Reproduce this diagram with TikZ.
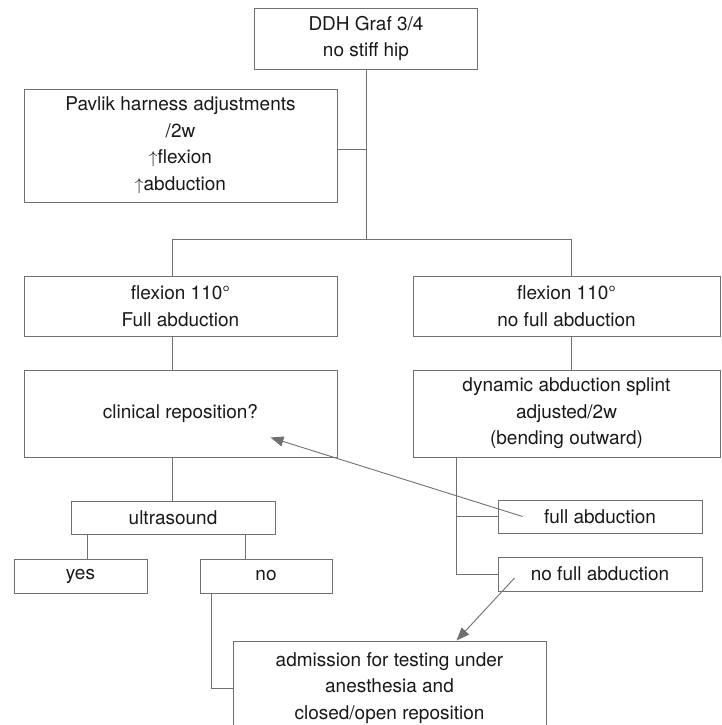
\documentclass[tikz,border=0pt]{standalone}
\usepackage{fontspec}
\setmainfont{TeX Gyre Heros}
\usetikzlibrary{positioning,arrows.meta}
\definecolor{ddhline}{RGB}{112,112,112}
\definecolor{ddhtext}{RGB}{25,25,25}

\tikzset{
  ddhbox/.style={draw=ddhline, line width=0.9pt, text=ddhtext, align=center,
    inner sep=0pt, font=\fontsize{19}{26.5}\selectfont},
  ddhlink/.style={draw=ddhline, line width=0.9pt},
  ddharrow/.style={ddhlink, -{Triangle[length=13pt,width=10pt]}}
}

\begin{document}
\begin{tikzpicture}[x=1pt, y=-1pt]
    \clip (0,0) rectangle (721,725);

    % Boxes
    \node[ddhbox, minimum width=223pt, minimum height=61pt] (graf) at (366,38.5) {DDH Graf 3/4\\no stiff hip};
    \node[ddhbox, minimum width=313pt, minimum height=113pt] (pavlik) at (180.5,145.5) {Pavlik harness adjustments\\/2w\\$\uparrow$flexion\\$\uparrow$abduction};
    \node[ddhbox, minimum width=313pt, minimum height=60pt] (flexL) at (180.5,306) {flexion 110°\\Full abduction};
    \node[ddhbox, minimum width=307pt, minimum height=60pt] (flexR) at (566.5,306) {flexion 110°\\no full abduction};
    \node[ddhbox, minimum width=313pt, minimum height=87pt] (clin) at (180.5,413.5) {clinical reposition?};
    \node[ddhbox, minimum width=307pt, minimum height=87pt] (dyn) at (566.5,413.5) {dynamic abduction splint\\adjusted/2w\\(bending outward)};
    \node[ddhbox, minimum width=204pt, minimum height=33pt] (us) at (173,517.5) {ultrasound};
    \node[ddhbox, minimum width=133pt, minimum height=34pt] (yes) at (80.5,576) {yes};
    \node[ddhbox, minimum width=132pt, minimum height=34pt] (no) at (266,576) {no};
    \node[ddhbox, minimum width=204pt, minimum height=33pt] (full) at (600,516.5) {full abduction};
    \node[ddhbox, minimum width=204pt, minimum height=34pt] (nofull) at (600,574) {no full abduction};
    \node[ddhbox, minimum width=313pt, minimum height=94pt] (adm) at (389.5,688) {admission for testing under\\anesthesia and\\closed/open reposition};

    % Axes of the connectors
    \coordinate (split) at (366,239);
    \coordinate (splitL) at (172,239);
    \coordinate (splitR) at (571,239);
    \coordinate (usyes) at (87,0);
    \coordinate (usno) at (245,0);
    \coordinate (noleg) at (211,0);
    \coordinate (dynleg) at (456,0);

    % Connectors
    \draw[ddhlink] (graf.south) -- (split);
    \draw[ddhlink] ([yshift=-4pt]pavlik.east) -- ([yshift=-4pt]pavlik.east -| split);
    \draw[ddhlink] (flexL.north -| splitL) -- (splitL) -- (splitR) -- (flexR.north -| splitR);
    \draw[ddhlink] (flexL.south -| splitL) -- (clin.north -| splitL);
    \draw[ddhlink] (flexR.south -| splitR) -- (dyn.north -| splitR);
    \draw[ddhlink] (clin.south -| splitL) -- (us.north -| splitL);
    \draw[ddhlink] (us.south -| usyes) -- (yes.north -| usyes);
    \draw[ddhlink] (us.south -| usno) -- (no.north -| usno);
    \draw[ddhlink] (no.south -| noleg) |- (adm.west);
    \draw[ddhlink] (dyn.south -| dynleg) |- (nofull.west);
    \draw[ddhlink] (full.west -| dynleg) -- (full.west);

    % Arrows
    \draw[ddharrow] ([xshift=25pt]full.west) -- ([shift={(90,24)}]clin.center);
    \draw[ddharrow] ([shift={(17,4)}]nofull.west) -- ([xshift=67pt]adm.north);
\end{tikzpicture}
\end{document}
